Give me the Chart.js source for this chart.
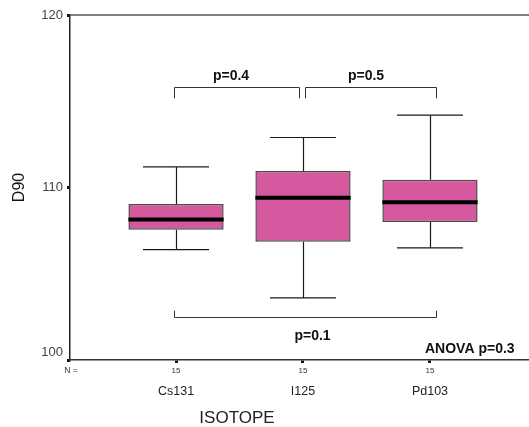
<!DOCTYPE html>
<html>
<head>
<meta charset="utf-8">
<script src="https://cdn.jsdelivr.net/npm/chart.js@4"></script>
<style>
  html, body { margin: 0; padding: 0; background: #fff; }
  #wrap { width: 529px; height: 427px; position: relative; }
</style>
</head>
<body>
<div id="wrap"><canvas id="boxChart"></canvas></div>
<script>
// values
const categories = ["Cs131", "I125", "Pd103"];
const nCounts = [15, 15, 15];
const whiskerLow = [106.4, 103.6, 106.5];
const q1 = [107.55, 106.85, 108.0];
const medians = [108.15, 109.4, 109.15];
const q3 = [109.05, 110.95, 110.45];
const whiskerHigh = [111.2, 112.9, 114.2];
const yTicks = [100, 110, 120];

// pairwise comparisons: [from, to, label]
const comparisons = [
    [0, 1, "p=0.4"],
    [1, 2, "p=0.5"],
    [0, 2, "p=0.1"],
];
const anovaLabel = "ANOVA p=0.3";

const FONT = "'Liberation Sans', Arial, sans-serif";

const boxExtras = {
    id: "boxExtras",
    afterDatasetsDraw(chart) {
        const ctx = chart.ctx;
        const x = chart.scales.x;
        const y = chart.scales.y;
        const capHalf = 0.26;
        const boxHalf = 0.375;
        ctx.save();
        ctx.strokeStyle = "#1a1a1a";
        ctx.lineWidth = 1.2;
        categories.forEach((c, i) => {
            const xc = Math.round(x.getPixelForValue(i)) + 0.5;
            const xl = x.getPixelForValue(i - capHalf);
            const xr = x.getPixelForValue(i + capHalf);
            ctx.beginPath();
            ctx.moveTo(xc, y.getPixelForValue(q3[i]));
            ctx.lineTo(xc, y.getPixelForValue(whiskerHigh[i]));
            ctx.moveTo(xl, y.getPixelForValue(whiskerHigh[i]));
            ctx.lineTo(xr, y.getPixelForValue(whiskerHigh[i]));
            ctx.moveTo(xc, y.getPixelForValue(q1[i]));
            ctx.lineTo(xc, y.getPixelForValue(whiskerLow[i]));
            ctx.moveTo(xl, y.getPixelForValue(whiskerLow[i]));
            ctx.lineTo(xr, y.getPixelForValue(whiskerLow[i]));
            ctx.stroke();
        });
        // medians
        ctx.strokeStyle = "#000";
        ctx.lineWidth = 4;
        categories.forEach((c, i) => {
            const ym = y.getPixelForValue(medians[i]);
            ctx.beginPath();
            ctx.moveTo(x.getPixelForValue(i - boxHalf), ym);
            ctx.lineTo(x.getPixelForValue(i + boxHalf), ym);
            ctx.stroke();
        });
        ctx.restore();
    },
    afterDraw(chart) {
        const ctx = chart.ctx;
        const x = chart.scales.x;
        const y = chart.scales.y;
        const area = chart.chartArea;
        ctx.save();

        // top frame line
        ctx.strokeStyle = "#555";
        ctx.lineWidth = 1.5;
        ctx.beginPath();
        ctx.moveTo(area.left, area.top);
        ctx.lineTo(area.right, area.top);
        ctx.stroke();

        // brackets
        const levels = [
            { line: 115.84, end: 115.17, textDy: -8, dx: -6 },
            { line: 115.84, end: 115.17, textDy: -8, dx: -5 },
            { line: 102.51, end: 102.86, textDy: 22, dx: 7 },
        ];
        ctx.strokeStyle = "#333";
        ctx.lineWidth = 1;
        ctx.fillStyle = "#111";
        ctx.font = "bold 14px " + FONT;
        ctx.textAlign = "center";
        ctx.textBaseline = "alphabetic";
        comparisons.forEach(([a, b, label], k) => {
            const lv = levels[k];
            let x1 = x.getPixelForValue(a) - 2;
            let x2 = x.getPixelForValue(b) + 6;
            if (comparisons.some(([a2]) => a2 === b && k < 2 && a2 !== a)) x2 = x.getPixelForValue(b) - 4;
            if (comparisons.some(([, b2]) => b2 === a && k < 2)) x1 = x.getPixelForValue(a) + 2;
            x1 = Math.round(x1) + 0.5;
            x2 = Math.round(x2) + 0.5;
            const yl = Math.round(y.getPixelForValue(lv.line)) + 0.5;
            const ye = y.getPixelForValue(lv.end);
            ctx.beginPath();
            ctx.moveTo(x1, ye);
            ctx.lineTo(x1, yl);
            ctx.lineTo(x2, yl);
            ctx.lineTo(x2, ye);
            ctx.stroke();
            ctx.fillText(label, (x1 + x2) / 2 + lv.dx, yl + lv.textDy);
        });

        ctx.textAlign = "left";
        ctx.fillText(anovaLabel, 425, 353);

        // N = and axis title
        ctx.fillStyle = "#334";
        ctx.font = "8.5px " + FONT;
        ctx.textAlign = "center";
        ctx.textBaseline = "middle";
        ctx.fillText("N =", area.left + 1, 371);

        ctx.fillStyle = "#222";
        ctx.font = "17px " + FONT;
        ctx.textBaseline = "alphabetic";
        ctx.fillText("ISOTOPE", 237, 423);
        ctx.restore();
    },
};

const catTicks = (scale) => {
    scale.ticks = categories.map((c, i) => ({ value: i }));
};

new Chart(document.getElementById("boxChart"), {
    type: "bar",
    data: {
        datasets: [
            {
                data: categories.map((c, i) => ({ x: i, y: [q1[i], q3[i]] })),
                backgroundColor: "#D6589E",
                borderColor: "#4a4a4a",
                borderWidth: 1.5,
                borderSkipped: false,
                categoryPercentage: 1,
                barPercentage: 0.75,
                xAxisID: "x",
                yAxisID: "y",
            },
        ],
    },
    options: {
        responsive: true,
        maintainAspectRatio: false,
        animation: false,
        layout: { padding: { top: 15, right: 0, bottom: 0, left: 0 } },
        plugins: {
            legend: { display: false },
            tooltip: { enabled: false },
        },
        scales: {
            y: {
                min: 100,
                max: 120,
                afterBuildTicks: (scale) => {
                    scale.ticks = yTicks.map((v) => ({ value: v }));
                },
                afterFit: (scale) => {
                    scale.width = 70;
                },
                ticks: {
                    color: "#444",
                    padding: 4,
                    font: { family: FONT, size: 13 },
                    // lowest label sits a little above its tick
                    callback: (v) => (v === yTicks[0] ? [String(v), ""] : String(v)),
                },
                grid: {
                    drawOnChartArea: false,
                    tickLength: 3,
                    lineWidth: 3,
                    color: "#111",
                },
                border: { color: "#222", width: 1.5 },
                title: {
                    display: true,
                    text: "D90",
                    color: "#111",
                    font: { family: FONT, size: 16 },
                    padding: { top: 10, bottom: 4 },
                },
            },
            x: {
                type: "linear",
                position: "bottom",
                min: -0.835,
                max: 2.78,
                offset: false,
                afterBuildTicks: catTicks,
                afterFit: (scale) => {
                    scale.height = 22;
                },
                ticks: {
                    color: "#333",
                    padding: 3,
                    maxRotation: 0,
                    font: { family: FONT, size: 8 },
                    callback: (v) => nCounts[v],
                },
                grid: {
                    offset: false,
                    drawOnChartArea: false,
                    tickLength: 3,
                    lineWidth: 3,
                    color: "#111",
                },
                border: { color: "#333", width: 1.5 },
            },
            x2: {
                type: "linear",
                position: "bottom",
                min: -0.835,
                max: 2.78,
                offset: false,
                afterBuildTicks: catTicks,
                afterFit: (scale) => {
                    scale.height = 45;
                },
                ticks: {
                    color: "#222",
                    padding: 2,
                    maxRotation: 0,
                    font: { family: FONT, size: 12.5 },
                    callback: (v) => categories[v],
                },
                grid: { display: false, drawTicks: false, offset: false },
                border: { display: false },
            },
        },
    },
    plugins: [boxExtras],
});
</script>
</body>
</html>
